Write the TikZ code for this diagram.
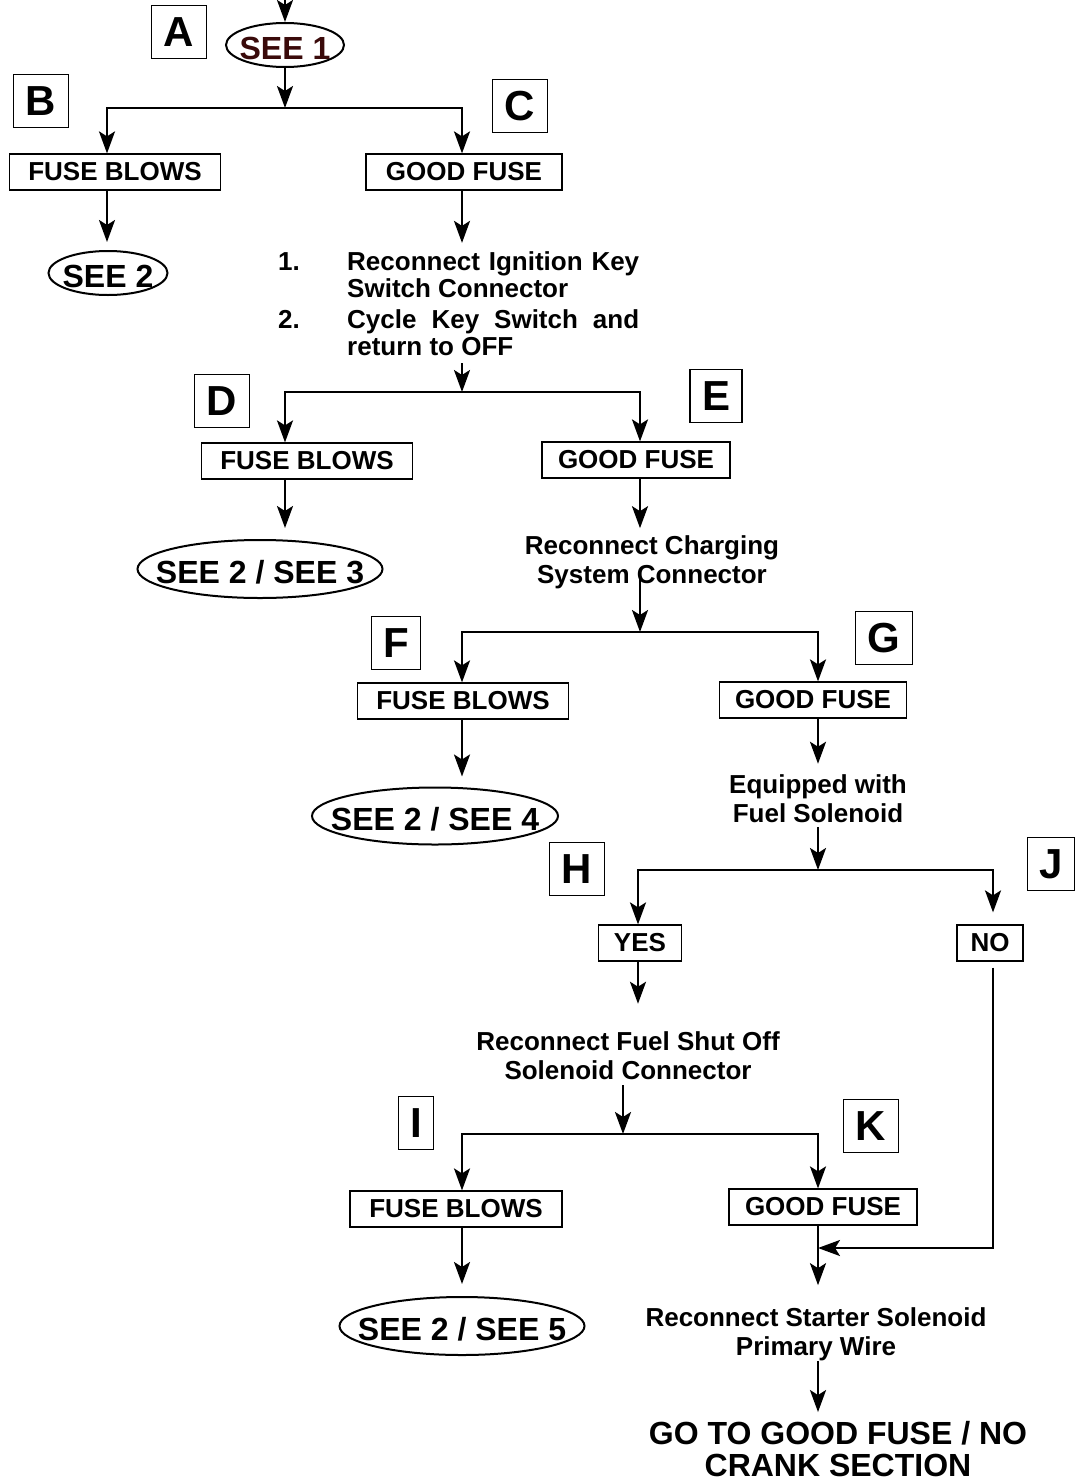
\documentclass[tikz,border=0pt]{standalone}
\usepackage{fontspec}
\setmainfont{Liberation Sans}
\usetikzlibrary{arrows.meta,shapes.geometric}
\definecolor{fcInk}{HTML}{000000}
\definecolor{fcMaroon}{HTML}{3A0A0A}
\hyphenpenalty=10000
\tolerance=9999
\newcommand{\fcsize}[2]{\fontsize{#1}{#2}\selectfont\bfseries}
\newcommand{\fcwide}[1]{\makebox[0pt]{\raisebox{-14pt}[0pt][0pt]{#1}}}
\tikzset{
  fc line/.style={draw=fcInk, line width=2.4pt},
  fc arrow/.style={fc line, -{Stealth[length=22pt, width=16pt, inset=5pt]}},
  fc box/.style={draw=fcInk, line width=1.2pt, minimum height=36pt, inner sep=0pt, font=\fcsize{26}{29}},
  fc tag/.style={draw=fcInk, line width=1.3pt, minimum height=53pt, inner xsep=12pt, inner ysep=0pt, font=\fcsize{42}{42}},
  fc oval/.style={ellipse, draw=fcInk, line width=2pt, inner sep=0pt, font=\fcsize{32}{32}},
  fc text/.style={align=center, inner sep=0pt, font=\fcsize{26}{29}},
}

\begin{document}
\begin{tikzpicture}[x=1pt, y=-1pt]
  \useasboundingbox (0,0) rectangle (1075,1483);
  % Branch points
  \coordinate (top) at (285,0);
  \coordinate (br1) at (285,108);  \coordinate (br1l) at (107,108); \coordinate (br1r) at (462,108);
  \coordinate (br2) at (462,392);  \coordinate (br2l) at (285,392); \coordinate (br2r) at (640,392);
  \coordinate (br3) at (640,632);  \coordinate (br3l) at (462,632); \coordinate (br3r) at (818,632);
  \coordinate (br4) at (818,870);  \coordinate (br4l) at (638,870); \coordinate (br4r) at (993,870);
  \coordinate (br5) at (623,1134); \coordinate (br5l) at (462,1134); \coordinate (br5r) at (818,1134);
  \coordinate (merge) at (818,1248);

  % Step letters
  \foreach \tag/\pos in {A/{179,32}, B/{41,101}, C/{520,106}, D/{222,401}, E/{716,396},
    F/{396,643}, G/{884,638}, H/{577,869}, I/{416,1123}, J/{1051,864}, K/{871,1126}}
    \node[fc tag] (tag\tag) at (\pos) {\tag};

  % Result boxes
  \node[fc box, minimum width=211pt] (fb1) at (115,172) {FUSE BLOWS};
  \node[fc box, minimum width=196pt] (gf1) at (464,172) {GOOD FUSE};
  \node[fc box, minimum width=211pt] (fb2) at (307,461) {FUSE BLOWS};
  \node[fc box, minimum width=188pt] (gf2) at (636,460) {GOOD FUSE};
  \node[fc box, minimum width=211pt] (fb3) at (463,701) {FUSE BLOWS};
  \node[fc box, minimum width=187pt] (gf3) at (813,700) {GOOD FUSE};
  \node[fc box, minimum width=83pt] (yes) at (640,943) {YES};
  \node[fc box, minimum width=66pt] (no) at (990,943) {NO};
  \node[fc box, minimum width=212pt] (fb4) at (456,1209) {FUSE BLOWS};
  \node[fc box, minimum width=188pt] (gf4) at (823,1207) {GOOD FUSE};

  % Ovals
  \node[fc oval, minimum width=118pt, minimum height=44pt, text=fcMaroon] (see1) at (285,45) {\fcwide{SEE 1}};
  \node[fc oval, minimum width=119pt, minimum height=44pt] (see2) at (108,273) {\fcwide{SEE 2}};
  \node[fc oval, minimum width=245pt, minimum height=58pt] (see23) at (260,569) {\fcwide{SEE 2 / SEE 3}};
  \node[fc oval, minimum width=246pt, minimum height=57pt] (see24) at (435,816) {\fcwide{SEE 2 / SEE 4}};
  \node[fc oval, minimum width=245pt, minimum height=58pt] (see25) at (462,1326) {\fcwide{SEE 2 / SEE 5}};

  % Instructions
  \node[anchor=base west, inner sep=0pt, font=\fcsize{26}{27}] (steps) at (278,270) {%
    \begin{tabular}[t]{@{}p{69pt}@{}p{292pt}@{}}
      1. & Reconnect Ignition Key Switch Connector\\[4pt]
      2. & Cycle Key Switch and return to OFF
    \end{tabular}};
  \node[fc text] (recharge) at (652,562) {Reconnect Charging\\System Connector};
  \node[fc text] (equip) at (818,799) {Equipped with\\Fuel Solenoid};
  \node[fc text] (fuelsol) at (628,1056) {Reconnect Fuel Shut Off\\Solenoid Connector};
  \node[fc text] (starter) at (816,1334) {Reconnect Starter Solenoid\\Primary Wire};
  \node[fc text, font=\fcsize{32}{32}] (goto) at (838,1449) {GO TO GOOD FUSE / NO\\CRANK SECTION};

  % Connectors
  \draw[fc arrow] (top) -- (see1.north);
  \draw[fc arrow] (see1.south) -- (br1);
  \draw[fc arrow] (br1) -| (br1l |- fb1.north);
  \draw[fc arrow] (br1) -| (br1r |- gf1.north);
  \draw[fc arrow, shorten >=8pt] (fb1.south -| br1l) -- (br1l |- see2.north);
  \draw[fc arrow, shorten >=8pt] (gf1.south -| br1r) -- (br1r |- steps.north);
  \draw[fc arrow] (steps.south -| br2) -- (br2);
  \draw[fc arrow] (br2) -| (br2l |- fb2.north);
  \draw[fc arrow] (br2) -| (br2r |- gf2.north);
  \draw[fc arrow, shorten >=11pt] (fb2.south -| br2l) -- (br2l |- see23.north);
  \draw[fc arrow, shorten >=7pt] (gf2.south -| br2r) -- (br2r |- recharge.north);
  \draw[fc arrow, shorten <=-13pt] (recharge.south -| br3) -- (br3);
  \draw[fc arrow] (br3) -| (br3l |- fb3.north);
  \draw[fc arrow] (br3) -| (br3r |- gf3.north);
  \draw[fc arrow, shorten >=10pt] (fb3.south -| br3l) -- (br3l |- see24.north);
  \draw[fc arrow, shorten >=11pt] (gf3.south -| br3r) -- (br3r |- equip.north);
  \draw[fc arrow, shorten <=4pt] (equip.south -| br4) -- (br4);
  \draw[fc arrow] (br4) -| (br4l |- yes.north);
  \draw[fc arrow, shorten >=12pt] (br4) -| (br4r |- no.north);
  \draw[fc arrow, shorten >=28pt] (yes.south -| br4l) -- (br4l |- fuelsol.north);
  \draw[fc arrow, shorten <=6pt] (no.south -| br4r) |- (merge);
  \draw[fc arrow, shorten <=5pt] (fuelsol.south -| br5) -- (br5);
  \draw[fc arrow] (br5) -| (br5l |- fb4.north);
  \draw[fc arrow] (br5) -| (br5r |- gf4.north);
  \draw[fc arrow, shorten >=12pt] (fb4.south -| br5l) -- (br5l |- see25.north);
  \draw[fc arrow, shorten >=22pt] (gf4.south -| br5r) -- (br5r |- starter.north);
  \draw[fc arrow, shorten >=9pt] (starter.south -| br5r) -- (br5r |- goto.north);
\end{tikzpicture}
\end{document}
